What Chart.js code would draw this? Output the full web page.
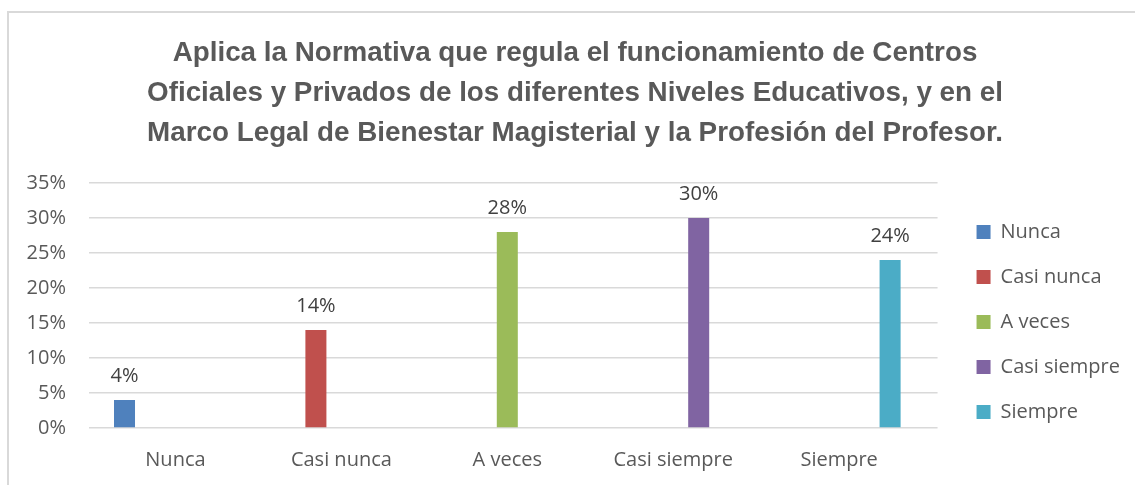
<!DOCTYPE html>
<html lang="es">
<head>
<meta charset="utf-8">
<title>Aplica la Normativa</title>
<script src="https://cdn.jsdelivr.net/npm/chart.js@4/dist/chart.umd.min.js"></script>
<style>
  html, body { margin: 0; padding: 0; background: #ffffff; overflow: hidden; }
  #frame {
    position: absolute; left: 7px; top: 11px; width: 1140px; height: 490px;
    border: 2px solid #d9d9d9; box-sizing: border-box;
  }
  #wrap { position: absolute; left: 0; top: 0; width: 1135px; height: 485px; }
</style>
</head>
<body>
<div id="frame"></div>
<div id="wrap"><canvas id="chart" width="1135" height="485"></canvas></div>
<script>
// Response categories and their share of answers (%)
const categories = ['Nunca', 'Casi nunca', 'A veces', 'Casi siempre', 'Siempre'];
const values = [4, 14, 28, 30, 24];
const seriesColors = ['#4F81BD', '#C0504D', '#9BBB59', '#8064A2', '#4BACC6'];
const yTicks = [0, 5, 10, 15, 20, 25, 30, 35];
const titleLines = [
  'Aplica la Normativa que regula el funcionamiento de Centros',
  'Oficiales y Privados de los diferentes Niveles Educativos, y en el',
  'Marco Legal de Bienestar Magisterial y la Profesión del Profesor.'
];

const textGray = '#595959';
const baseFont = "'Open Sans', 'Noto Sans', sans-serif";

// One series per category; each series only has a value in its own category
const datasets = categories.map((name, i) => ({
  label: name,
  data: categories.map((_, j) => ({ x: j, y: j === i ? values[i] : null })),
  backgroundColor: seriesColors[i],
  borderWidth: 0,
  categoryPercentage: 0.7675,
  barPercentage: 0.825
}));

// Percentage labels above each bar
const valueLabels = {
  id: 'valueLabels',
  afterDatasetsDraw(chart) {
    const ctx = chart.ctx;
    ctx.save();
    ctx.font = "20px " + baseFont;
    ctx.fillStyle = '#404040';
    ctx.textAlign = 'center';
    ctx.textBaseline = 'middle';
    chart.data.datasets.forEach((ds, di) => {
      const meta = chart.getDatasetMeta(di);
      meta.data.forEach((el, j) => {
        const v = ds.data[j].y;
        if (v === null || v === undefined) return;
        ctx.fillText(v + '%', el.x, el.y - 24);
      });
    });
    ctx.restore();
  }
};

new Chart(document.getElementById('chart'), {
  type: 'bar',
  data: { datasets },
  plugins: [valueLabels],
  options: {
    responsive: false,
    animation: false,
    layout: { padding: { left: 20, right: 5, top: 0, bottom: 0 } },
    plugins: {
      tooltip: { enabled: false },
      title: {
        display: true,
        text: titleLines,
        color: textGray,
        font: { family: "'Liberation Sans Narrow', 'Liberation Sans', sans-serif", size: 27.8, weight: 'bold', lineHeight: '40px' },
        padding: { top: 33, bottom: 6 }
      },
      legend: {
        display: true,
        position: 'right',
        // empty legend title reserves the space above the first entry
        title: { display: true, text: '', padding: { top: 0, bottom: 135 }, font: { size: 20, lineHeight: '24px' } },
        labels: {
          boxWidth: 14,
          boxHeight: 14,
          padding: 25,
          color: textGray,
          font: { family: baseFont, size: 20 }
        }
      }
    },
    scales: {
      x: {
        type: 'linear',
        offset: false,
        min: -0.521,
        max: 4.593,
        grid: { display: false, drawTicks: false, offset: false },
        border: { display: false },
        afterBuildTicks: (axis) => { axis.ticks = categories.map((_, i) => ({ value: i })); },
        afterFit: (axis) => { axis.height = 57; },
        ticks: {
          autoSkip: false,
          maxRotation: 0,
          padding: 20,
          color: textGray,
          font: { family: baseFont, size: 20 },
          callback: (v) => categories[v]
        }
      },
      xTop: {
        type: 'linear',
        position: 'top',
        display: true,
        grid: { display: false, drawTicks: false },
        border: { display: false },
        ticks: { display: false },
        afterFit: (axis) => { axis.height = 24; }
      },
      y: {
        min: 0,
        max: 35,
        afterBuildTicks: (axis) => { axis.ticks = yTicks.map(v => ({ value: v })); },
        afterFit: (axis) => { axis.width = 69; },
        grid: { color: '#d9d9d9', lineWidth: 1.5, drawTicks: false },
        border: { display: false },
        ticks: {
          padding: 23,
          color: textGray,
          font: { family: baseFont, size: 20 },
          callback: (v) => v + '%'
        }
      },
      yRight: {
        position: 'right',
        display: true,
        grid: { display: false, drawTicks: false },
        border: { display: false },
        ticks: { display: false },
        afterFit: (axis) => { axis.width = 14; }
      }
    }
  }
});
</script>
</body>
</html>
